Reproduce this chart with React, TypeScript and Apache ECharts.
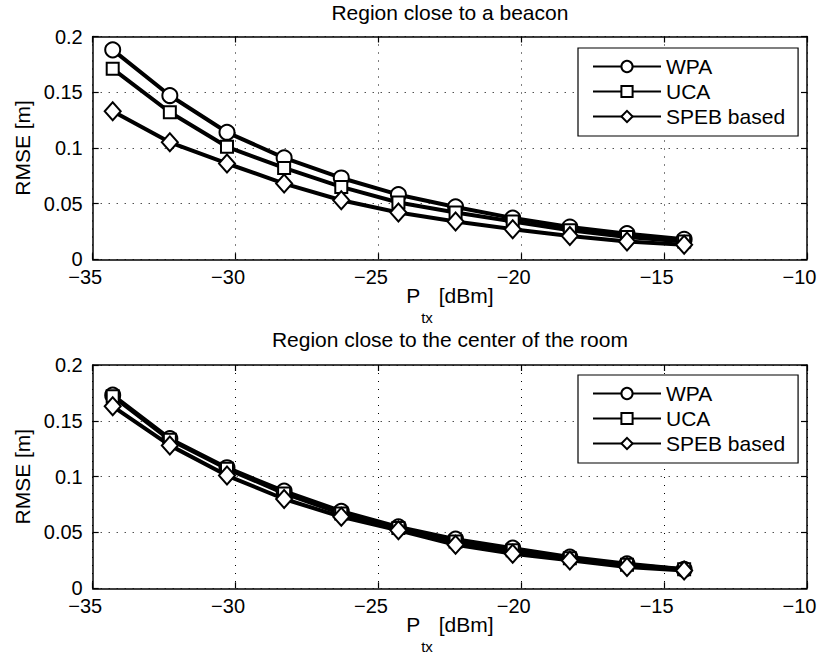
import React, { useEffect, useRef } from "react";
import * as echarts from "echarts";

const xValues = [-34.3, -32.3, -30.3, -28.3, -26.3, -24.3, -22.3, -20.3, -18.3, -16.3, -14.3];

const topWPA = [0.188, 0.147, 0.114, 0.091, 0.073, 0.058, 0.047, 0.037, 0.029, 0.023, 0.018];
const topUCA = [0.171, 0.132, 0.101, 0.082, 0.065, 0.051, 0.042, 0.034, 0.026, 0.020, 0.016];
const topSPEB = [0.133, 0.105, 0.086, 0.068, 0.053, 0.042, 0.034, 0.027, 0.021, 0.016, 0.013];

const botWPA = [0.173, 0.134, 0.108, 0.087, 0.069, 0.055, 0.044, 0.036, 0.028, 0.022, 0.017];
const botUCA = [0.172, 0.133, 0.107, 0.085, 0.067, 0.054, 0.042, 0.034, 0.027, 0.021, 0.017];
const botSPEB = [0.163, 0.128, 0.101, 0.080, 0.064, 0.052, 0.039, 0.031, 0.025, 0.019, 0.016];

const seriesNames = ["WPA", "UCA", "SPEB based"];
const titles = ["Region close to a beacon", "Region close to the center of the room"];

const FONT = "Liberation Sans, Arial, Helvetica, sans-serif";

export default function App() {
  const ref = useRef<HTMLDivElement>(null);
  useEffect(() => {
    if (!ref.current) return;
    const chart = echarts.init(ref.current, null, { renderer: "svg" });

    const grids = [
      { left: 92.7, top: 36.5, width: 714.3, height: 222.8, outerBoundsMode: "none", containLabel: false },
      { left: 92.7, top: 365, width: 714.3, height: 223.3, outerBoundsMode: "none", containLabel: false },
    ];

    const gridLine = { show: true, lineStyle: { color: "#000", width: 1, type: [1, 7] as any } };
    const axisLine = { show: true, onZero: false, lineStyle: { color: "#000", width: 1.5 } };
    const tick = { show: true, inside: true, length: 6, lineStyle: { color: "#000", width: 1.2 } };

    const xAxes: any[] = [];
    const yAxes: any[] = [];
    [0, 1].forEach((g) => {
      xAxes.push({
        type: "value", gridIndex: g, min: -35, max: -10, interval: 5, position: "bottom",
        axisLine, axisTick: tick, splitLine: gridLine,
        axisLabel: {
          color: "#000", fontSize: 20, fontFamily: FONT, margin: 8, padding: [0, 15, 0, 0],
          formatter: (v: number) => String(v).replace("-", "\u2212"),
        },
        name: "{n|P}{s|tx}{n| [dBm]}",
        nameLocation: "middle", nameGap: 26, nameMoveOverlap: false,
        nameTextStyle: {
          color: "#000", fontFamily: FONT,
          rich: {
            n: { fontSize: 21, lineHeight: 21, fontFamily: FONT, color: "#000" },
            s: { fontSize: 15, lineHeight: 15, fontFamily: FONT, color: "#000", padding: [44, 0, 0, 1] },
          },
        },
      });
      xAxes.push({
        type: "value", gridIndex: g, min: -35, max: -10, interval: 5, position: "top",
        axisLine, axisTick: tick, splitLine: { show: false }, axisLabel: { show: false },
      });
      yAxes.push({
        type: "value", gridIndex: g, min: 0, max: 0.2, interval: 0.05, position: "left",
        axisLine, axisTick: tick, splitLine: gridLine,
        axisLabel: { color: "#000", fontSize: 20, fontFamily: FONT, margin: 10 },
        name: "RMSE [m]", nameLocation: "middle", nameGap: 60, nameMoveOverlap: false,
        nameTextStyle: { color: "#000", fontSize: 21, fontFamily: FONT },
      });
      yAxes.push({
        type: "value", gridIndex: g, min: 0, max: 0.2, interval: 0.05, position: "right",
        axisLine, axisTick: tick, splitLine: { show: false }, axisLabel: { show: false },
      });
    });

    const symbols = ["emptyCircle", "emptyRect", "emptyDiamond"];
    const sizes: any[] = [15, 12, [16, 18]];
    const mk = (name: string, data: number[], idx: number, g: number) => ({
      type: "line", name,
      xAxisIndex: g * 2, yAxisIndex: g * 2,
      data: xValues.map((x, i) => [x, data[i]]),
      symbol: symbols[idx], symbolSize: sizes[idx],
      lineStyle: { color: "#000", width: 4 },
      itemStyle: { color: "#000", borderColor: "#000", borderWidth: 3.2 },
      emphasis: { disabled: true },
    });

    const series = [
      mk(seriesNames[0], topWPA, 0, 0),
      mk(seriesNames[1], topUCA, 1, 0),
      mk(seriesNames[2], topSPEB, 2, 0),
      mk(seriesNames[0], botWPA, 0, 1),
      mk(seriesNames[1], botUCA, 1, 1),
      mk(seriesNames[2], botSPEB, 2, 1),
    ];

    const legendTops = [48, 375];
    const legends = legendTops.map((t) => ({
      orient: "vertical", left: 578, top: t,
      data: seriesNames,
      itemWidth: 68, itemHeight: 14, itemGap: 4,
      padding: [8, 13, 9, 14],
      borderColor: "#000", borderWidth: 1.2, backgroundColor: "#fff",
      textStyle: { color: "#000", fontSize: 21, lineHeight: 21, fontFamily: FONT },
      selectedMode: false,
    }));

    const titleTops = [2, 329];
    const titleComps = titles.map((t, i) => ({
      text: t, left: 449.9, top: titleTops[i], textAlign: "center", padding: 0,
      textStyle: { color: "#000", fontSize: 21, fontWeight: "normal", fontFamily: FONT },
    }));

    chart.setOption({
      animation: false,
      backgroundColor: "#fff",
      title: titleComps,
      grid: grids,
      xAxis: xAxes,
      yAxis: yAxes,
      legend: legends,
      series,
    } as any);

    return () => chart.dispose();
  }, []);

  return (
    <div
      ref={ref}
      style={{ position: "fixed", left: 0, top: 0, width: 821, height: 657, background: "#fff" }}
    />
  );
}
